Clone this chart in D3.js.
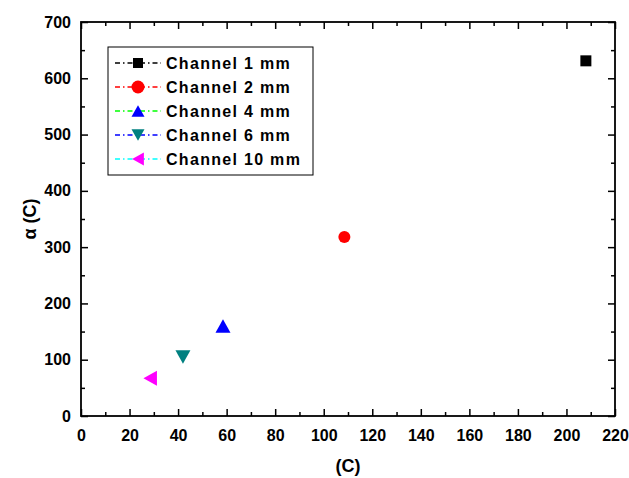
<!DOCTYPE html>
<html>
<head>
<meta charset="utf-8">
<script src="https://cdn.jsdelivr.net/npm/d3@7"></script>
<style>
  body { margin: 0; background: #fff; }
  text { font-family: "Liberation Sans", Arial, sans-serif; font-weight: bold; }
</style>
</head>
<body>
<svg id="chart" width="629" height="478"></svg>
<script>
// data
var channels = ["Channel 1 mm", "Channel 2 mm", "Channel 4 mm", "Channel 6 mm", "Channel 10 mm"];
var xValues = [208, 108.5, 58.5, 42, 28.5];
var yValues = [631, 318, 160, 105, 67];
var symbolColors = ["#000000", "#ff0000", "#0000ff", "#008080", "#ff00ff"];
var lineColors = ["#000000", "#ff0000", "#00ff00", "#0000ff", "#00ffff"];
var symbolKinds = ["square", "circle", "up", "down", "left"];
var xTicks = [0, 20, 40, 60, 80, 100, 120, 140, 160, 180, 200, 220];
var yTicks = [0, 100, 200, 300, 400, 500, 600, 700];

var svg = d3.select("#chart");
var margin = {left: 81, right: 14, top: 22, bottom: 62};
var W = 629, H = 478;

var x = d3.scaleLinear().domain([0, 220]).range([margin.left, W - margin.right]);
var y = d3.scaleLinear().domain([0, 700]).range([H - margin.bottom, margin.top]);

// marker shapes, s = half width in px
function markerPath(kind, s) {
    if (kind === "square") return "M" + (-s) + "," + (-s) + "h" + 2*s + "v" + 2*s + "h" + (-2*s) + "Z";
    if (kind === "circle") return d3.symbol().type(d3.symbolCircle).size(Math.PI * s * s)();
    var h = s * 0.9;
    if (kind === "up") return "M0," + (-h) + "L" + s + "," + h + "L" + (-s) + "," + h + "Z";
    if (kind === "down") return "M0," + h + "L" + s + "," + (-h) + "L" + (-s) + "," + (-h) + "Z";
    if (kind === "left") return "M" + (-h) + ",0L" + h + "," + (-s) + "L" + h + "," + s + "Z";
}
var markerSize = [5.5, 6, 7.5, 7.5, 7.5];

// axes: ticks point inward
var xAxisB = d3.axisBottom(x).tickValues(d3.range(0, 221, 10)).tickSize(-7).tickPadding(14)
    .tickFormat(function(d) { return xTicks.indexOf(d) >= 0 ? d : ""; });
var xAxisT = d3.axisTop(x).tickValues(d3.range(0, 221, 10)).tickSize(-7).tickFormat("");
var yAxisL = d3.axisLeft(y).tickValues(d3.range(0, 701, 50)).tickSize(-7).tickPadding(10)
    .tickFormat(function(d) { return yTicks.indexOf(d) >= 0 ? d : ""; });
var yAxisR = d3.axisRight(y).tickValues(d3.range(0, 701, 50)).tickSize(-7).tickFormat("");

function styleAxis(g) {
    g.select(".domain").remove();
    g.selectAll(".tick line").attr("stroke", "#000").attr("stroke-width", 1.5);
    g.selectAll(".tick text").attr("font-size", 16).attr("fill", "#000");
}

var gb = svg.append("g").attr("transform", "translate(0," + y(0) + ")").call(xAxisB);
styleAxis(gb);
gb.selectAll(".tick line").filter(function(d) { return d % 20 !== 0; }).attr("y2", -4);

var gt = svg.append("g").attr("transform", "translate(0," + y(700) + ")").call(xAxisT);
styleAxis(gt);
gt.selectAll(".tick line").filter(function(d) { return d % 20 !== 0; }).attr("y2", 4);

var gl = svg.append("g").attr("transform", "translate(" + x(0) + ",0)").call(yAxisL);
styleAxis(gl);
gl.selectAll(".tick line").filter(function(d) { return d % 100 !== 0; }).attr("x2", 4);

var gr = svg.append("g").attr("transform", "translate(" + x(220) + ",0)").call(yAxisR);
styleAxis(gr);
gr.selectAll(".tick line").filter(function(d) { return d % 100 !== 0; }).attr("x2", -4);

// frame
svg.append("rect")
    .attr("x", x(0)).attr("y", y(700))
    .attr("width", x(220) - x(0)).attr("height", y(0) - y(700))
    .attr("fill", "none").attr("stroke", "#000").attr("stroke-width", 1.8);

// axis titles
svg.append("text")
    .attr("x", (x(0) + x(220)) / 2).attr("y", 472)
    .attr("text-anchor", "middle").attr("font-size", 18)
    .text("(C)");

svg.append("text")
    .attr("transform", "translate(36," + ((y(0) + y(700)) / 2) + ") rotate(-90)")
    .attr("text-anchor", "middle").attr("font-size", 18)
    .text("\u03b1 (C)");

// points
channels.forEach(function(c, i) {
    svg.append("path")
        .attr("d", markerPath(symbolKinds[i], markerSize[i]))
        .attr("transform", "translate(" + x(xValues[i]) + "," + y(yValues[i]) + ")")
        .attr("fill", symbolColors[i]);
});

// legend
var legend = svg.append("g").attr("transform", "translate(108,47)");
legend.append("rect")
    .attr("width", 205).attr("height", 128)
    .attr("fill", "#fff").attr("stroke", "#000").attr("stroke-width", 1);

channels.forEach(function(c, i) {
    var row = legend.append("g").attr("transform", "translate(0," + (16 + i * 24) + ")");
    row.append("line")
        .attr("x1", 7).attr("x2", 53)
        .attr("stroke", lineColors[i]).attr("stroke-width", 1.5)
        .attr("stroke-dasharray", "5,3,1.5,3");
    row.append("path")
        .attr("d", markerPath(symbolKinds[i], i === 0 ? 5 : 6.5))
        .attr("transform", "translate(30,0)")
        .attr("fill", symbolColors[i]);
    row.append("text")
        .attr("x", 58).attr("y", 6)
        .attr("font-size", 16).attr("fill", "#000")
        .attr("letter-spacing", 1.3)
        .text(c);
});
</script>
</body>
</html>
